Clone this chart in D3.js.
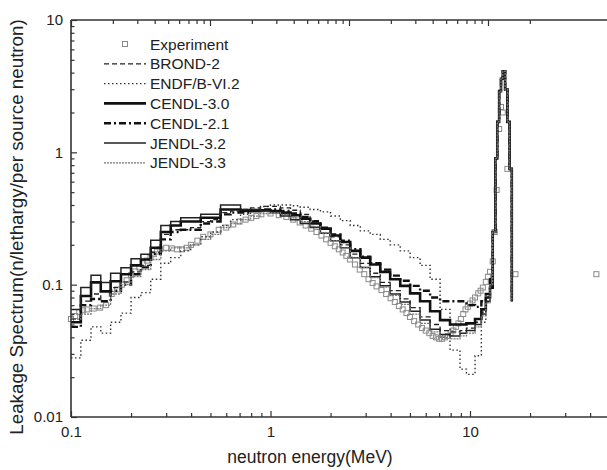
<!DOCTYPE html>
<html>
<head>
<meta charset="utf-8">
<script src="https://cdn.jsdelivr.net/npm/d3@7"></script>
<style>
  body { margin: 0; background: #fff; }
  text { font-family: "Liberation Sans", Arial, sans-serif; fill: #222; }
</style>
</head>
<body>
<div id="chart"></div>
<script>
// bin lower edges (MeV), shared by all evaluated libraries
const energy = [0.1, 0.112, 0.126, 0.141, 0.158, 0.178, 0.2, 0.224, 0.251, 0.282,
  0.316, 0.355, 0.398, 0.447, 0.501, 0.562, 0.631, 0.708, 0.794, 0.891,
  1.0, 1.12, 1.26, 1.41, 1.58, 1.78, 2.0, 2.24, 2.51, 2.82,
  3.16, 3.55, 3.98, 4.47, 5.01, 5.62, 6.31, 7.08, 7.94, 8.91,
  9.6, 10.6, 11.4, 12.0, 12.6, 13.0, 13.4, 13.7, 14.0, 14.3, 14.6, 15.0, 15.4, 15.8, 16.2]

const brond2 = [0.055, 0.075, 0.085, 0.075, 0.095, 0.105, 0.125, 0.14, 0.175, 0.24,
  0.26, 0.26, 0.27, 0.30, 0.31, 0.35, 0.36, 0.37, 0.38, 0.39,
  0.39, 0.38, 0.365, 0.34, 0.305, 0.265, 0.23, 0.2, 0.17, 0.145,
  0.122, 0.104, 0.09, 0.078, 0.067, 0.057, 0.05, 0.045, 0.044, 0.045,
  0.047, 0.052, 0.062, 0.078, 0.1, 0.25, 0.9, 1.7, 2.9, 3.6, 4.1, 3.0, 1.7, 0.75, 0.075]

const endf = [0.028, 0.038, 0.048, 0.043, 0.052, 0.061, 0.08, 0.087, 0.11, 0.145,
  0.16, 0.18, 0.2, 0.23, 0.25, 0.28, 0.31, 0.34, 0.37, 0.39,
  0.40, 0.40, 0.395, 0.385, 0.37, 0.355, 0.33, 0.305, 0.28, 0.255,
  0.24, 0.22, 0.2, 0.18, 0.16, 0.14, 0.11, 0.065, 0.032, 0.023,
  0.021, 0.029, 0.052, 0.074, 0.1, 0.25, 0.9, 1.7, 2.9, 3.6, 4.1, 3.0, 1.7, 0.75, 0.075]

const cendl30 = [0.052, 0.082, 0.104, 0.089, 0.106, 0.12, 0.14, 0.155, 0.19, 0.25,
  0.28, 0.30, 0.30, 0.32, 0.32, 0.37, 0.37, 0.36, 0.36, 0.365,
  0.36, 0.35, 0.335, 0.315, 0.29, 0.265, 0.235, 0.21, 0.18, 0.16,
  0.142, 0.125, 0.11, 0.098, 0.086, 0.075, 0.063, 0.054, 0.05, 0.05,
  0.051, 0.055, 0.065, 0.08, 0.095, 0.25, 0.9, 1.7, 2.9, 3.6, 4.1, 3.0, 1.7, 0.75, 0.075]

const cendl21 = [0.048, 0.07, 0.078, 0.075, 0.09, 0.1, 0.12, 0.135, 0.17, 0.22,
  0.25, 0.26, 0.26, 0.29, 0.30, 0.34, 0.35, 0.35, 0.36, 0.37,
  0.37, 0.36, 0.345, 0.325, 0.30, 0.27, 0.24, 0.215, 0.185, 0.163,
  0.145, 0.13, 0.117, 0.107, 0.098, 0.09, 0.08, 0.075, 0.075, 0.075,
  0.07, 0.068, 0.075, 0.085, 0.11, 0.25, 0.9, 1.7, 2.9, 3.6, 4.1, 3.0, 1.7, 0.75, 0.075]

const jendl32 = [0.065, 0.095, 0.118, 0.104, 0.122, 0.134, 0.157, 0.17, 0.217, 0.28,
  0.30, 0.32, 0.32, 0.34, 0.34, 0.40, 0.40, 0.37, 0.37, 0.36,
  0.35, 0.33, 0.31, 0.29, 0.27, 0.245, 0.215, 0.19, 0.16, 0.135,
  0.115, 0.098, 0.085, 0.074, 0.063, 0.054, 0.046, 0.042, 0.041, 0.043,
  0.045, 0.05, 0.06, 0.075, 0.1, 0.25, 0.9, 1.7, 2.9, 3.6, 4.1, 3.0, 1.7, 0.75, 0.075]

const jendl33 = [0.055, 0.06, 0.066, 0.07, 0.085, 0.1, 0.115, 0.13, 0.155, 0.18,
  0.19, 0.19, 0.2, 0.22, 0.24, 0.27, 0.29, 0.31, 0.33, 0.345,
  0.35, 0.34, 0.32, 0.30, 0.275, 0.245, 0.215, 0.19, 0.16, 0.135,
  0.113, 0.096, 0.083, 0.071, 0.06, 0.051, 0.044, 0.04, 0.039, 0.041,
  0.043, 0.048, 0.058, 0.073, 0.1, 0.25, 0.9, 1.7, 2.9, 3.6, 4.1, 3.0, 1.7, 0.75, 0.075]

// measured points
const expEnergy = [0.1, 0.105, 0.11, 0.115, 0.12, 0.13, 0.14, 0.15, 0.16, 0.17, 0.18, 0.19,
  0.2, 0.21, 0.22, 0.23, 0.24, 0.25, 0.26, 0.27, 0.28, 0.3, 0.32, 0.34, 0.36, 0.38,
  0.4, 0.43, 0.46, 0.5, 0.55, 0.6, 0.65, 0.7, 0.75, 0.8, 0.85, 0.9, 1.0, 1.1, 1.2, 1.3, 1.4,
  1.5, 1.6, 1.7, 1.8, 1.9, 2.0, 2.1, 2.2, 2.3, 2.4, 2.5, 2.65, 2.8, 2.95, 3.1, 3.25, 3.4,
  3.6, 3.8, 4.0, 4.2, 4.4, 4.6, 4.8, 5.0, 5.25, 5.5, 5.75, 6.0, 6.25, 6.5, 6.75,
  7.0, 7.25, 7.5, 7.75, 8.0, 8.25, 8.5, 8.75, 9.0, 9.25, 9.5, 9.75, 10.0, 10.3, 10.6,
  11.0, 11.3, 11.6, 12.0, 12.3, 12.6, 13.0, 13.3,
  13.6, 14.0, 14.3, 14.6, 15.4, 16.9, 43]
const expValue = [0.055, 0.058, 0.062, 0.064, 0.065, 0.066, 0.067, 0.07, 0.085, 0.092, 0.1, 0.108,
  0.118, 0.126, 0.135, 0.145, 0.152, 0.16, 0.17, 0.178, 0.185, 0.19, 0.188, 0.185, 0.185, 0.19,
  0.2, 0.215, 0.23, 0.24, 0.26, 0.27, 0.285, 0.3, 0.31, 0.32, 0.33, 0.34, 0.345, 0.335, 0.325, 0.31, 0.295,
  0.28, 0.265, 0.25, 0.235, 0.22, 0.207, 0.195, 0.185, 0.175, 0.165, 0.155, 0.142, 0.13, 0.12, 0.11, 0.103, 0.097,
  0.091, 0.085, 0.079, 0.074, 0.069, 0.065, 0.061, 0.057, 0.053, 0.05, 0.047, 0.045, 0.043, 0.041, 0.04,
  0.039, 0.039, 0.04, 0.041, 0.043, 0.045, 0.048, 0.051, 0.055, 0.06, 0.065, 0.068, 0.072, 0.076, 0.08,
  0.086, 0.09, 0.095, 0.105, 0.115, 0.125, 0.15, 0.25,
  0.52, 1.5, 2.2, 2.0, 0.75, 0.12, 0.12]

const xMajor = [0.1, 1, 10]
const xMinor = [0.2, 0.3, 0.4, 0.5, 0.6, 0.7, 0.8, 0.9, 2, 3, 4, 5, 6, 7, 8, 9, 20, 30, 40]
const topMajor = [0.1, 1, 10, 100]
const topMinor = [0.2, 0.3, 0.4, 0.5, 0.6, 0.7, 0.8, 0.9, 2, 3, 4, 5, 6, 7, 8, 9, 20, 30, 40, 50, 60, 70, 80, 90, 200]
const yMajor = [0.01, 0.1, 1, 10]
const yMinor = [0.02, 0.03, 0.04, 0.05, 0.06, 0.07, 0.08, 0.09, 0.2, 0.3, 0.4, 0.5, 0.6, 0.7, 0.8, 0.9,
  2, 3, 4, 5, 6, 7, 8, 9]

const W = 607, H = 470
const mLeft = 71, mRight = 470, mTop = 20, mBottom = 417

const svg = d3.select('#chart')
  .append('svg')
  .attr('width', W)
  .attr('height', H)

const x = d3.scaleLog().domain([0.1, 10]).range([mLeft, mRight])
const xTop = d3.scaleLog().domain([0.1, 100]).range([mLeft, mLeft + 3 * 139])
const y = d3.scaleLog().domain([0.01, 10]).range([mBottom, mTop])

const series = [
  { name: 'BROND-2', values: brond2, width: 1.3, dash: '5,3', color: '#222' },
  { name: 'ENDF/B-VI.2', values: endf, width: 1.4, dash: '1.5,2.5', color: '#333' },
  { name: 'CENDL-3.0', values: cendl30, width: 2.6, dash: null, color: '#111' },
  { name: 'CENDL-2.1', values: cendl21, width: 2.4, dash: '7,3,2,3', color: '#111' },
  { name: 'JENDL-3.2', values: jendl32, width: 1.5, dash: null, color: '#222' },
  { name: 'JENDL-3.3', values: jendl33, width: 1.3, dash: '2,1', color: '#777' }
]

const plot = svg.append('g')

// experiment squares first, lines over them
plot.selectAll('rect.exp')
  .data(expEnergy.map((e, i) => [e, expValue[i]]))
  .enter()
  .append('rect')
  .attr('class', 'exp')
  .attr('x', d => x(d[0]) - 2.5)
  .attr('y', d => y(d[1]) - 2.5)
  .attr('width', 5)
  .attr('height', 5)
  .attr('fill', 'none')
  .attr('stroke', '#8a8a8a')
  .attr('stroke-width', 1)

const line = d3.line()
  .x(d => x(d[0]))
  .y(d => y(d[1]))
  .curve(d3.curveStepAfter)

series.forEach(s => {
  plot.append('path')
    .datum(energy.map((e, i) => [e, s.values[i]]))
    .attr('d', line)
    .attr('fill', 'none')
    .attr('stroke', s.color)
    .attr('stroke-width', s.width)
    .attr('stroke-dasharray', s.dash)
})

// axes
const axisColor = '#333'
const ax = svg.append('g').attr('class', 'axes')

function styleAxis(g) {
  g.select('.domain').remove()
  g.selectAll('line').attr('stroke', axisColor).attr('stroke-width', 1.2)
  g.selectAll('text').style('font-size', '15px').attr('fill', '#222')
}

ax.append('g')
  .attr('transform', `translate(0,${mBottom})`)
  .call(d3.axisBottom(x).tickValues(xMajor).tickSize(-6).tickPadding(9)
    .tickFormat(d => d === 0.1 ? '0.1' : d3.format('d')(d)))
  .call(styleAxis)
ax.append('g')
  .attr('transform', `translate(0,${mBottom})`)
  .call(d3.axisBottom(x).tickValues(xMinor).tickSize(-4).tickFormat(''))
  .call(styleAxis)

ax.append('g')
  .attr('transform', `translate(0,${mTop})`)
  .call(d3.axisTop(xTop).tickValues(topMajor).tickSize(-6).tickFormat(''))
  .call(styleAxis)
ax.append('g')
  .attr('transform', `translate(0,${mTop})`)
  .call(d3.axisTop(xTop).tickValues(topMinor).tickSize(-4).tickFormat(''))
  .call(styleAxis)

ax.append('g')
  .attr('transform', `translate(${mLeft},0)`)
  .call(d3.axisLeft(y).tickValues(yMajor).tickSize(-6).tickPadding(8)
    .tickFormat(d => d >= 1 ? d3.format('d')(d) : String(d)))
  .call(styleAxis)
ax.append('g')
  .attr('transform', `translate(${mLeft},0)`)
  .call(d3.axisLeft(y).tickValues(yMinor).tickSize(-3.5).tickFormat(''))
  .call(styleAxis)

// frame lines (plot runs off the right edge of the picture)
ax.append('line').attr('x1', mLeft).attr('x2', W).attr('y1', mBottom).attr('y2', mBottom)
  .attr('stroke', axisColor).attr('stroke-width', 1.6)
ax.append('line').attr('x1', mLeft).attr('x2', W).attr('y1', mTop).attr('y2', mTop)
  .attr('stroke', axisColor).attr('stroke-width', 1.6)
ax.append('line').attr('x1', mLeft).attr('x2', mLeft).attr('y1', mTop).attr('y2', mBottom)
  .attr('stroke', axisColor).attr('stroke-width', 1.6)

svg.append('text')
  .attr('x', 310)
  .attr('y', 463)
  .attr('text-anchor', 'middle')
  .style('font-size', '17.5px')
  .text('neutron energy(MeV)')

svg.append('text')
  .attr('transform', 'translate(23,227) rotate(-90)')
  .attr('text-anchor', 'middle')
  .style('font-size', '18.8px')
  .text('Leakage Spectrum(n/lethargy/per source neutron)')

// legend
const legend = svg.append('g')
const legendRows = [{ name: 'Experiment', exp: true }].concat(series)
legendRows.forEach((s, i) => {
  const ly = 44 + i * 19.8
  if (s.exp) {
    legend.append('rect')
      .attr('x', 122.5).attr('y', ly - 2.5)
      .attr('width', 5).attr('height', 5)
      .attr('fill', 'none').attr('stroke', '#8a8a8a')
  } else {
    legend.append('line')
      .attr('x1', 104).attr('x2', 146)
      .attr('y1', ly).attr('y2', ly)
      .attr('stroke', s.color)
      .attr('stroke-width', s.width)
      .attr('stroke-dasharray', s.dash)
  }
  legend.append('text')
    .attr('x', 150)
    .attr('y', ly + 5.5)
    .style('font-size', '15.5px')
    .text(s.name)
})
</script>
</body>
</html>
